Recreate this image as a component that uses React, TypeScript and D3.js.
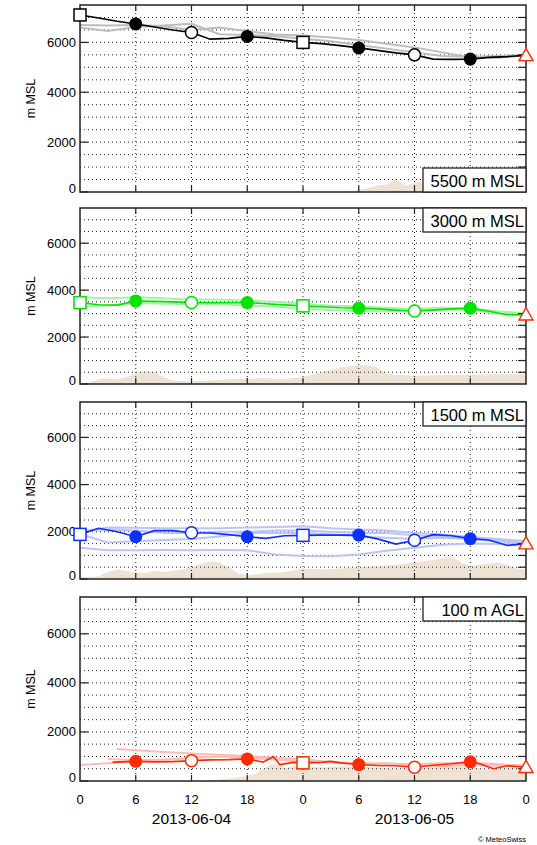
import React from "react";
import * as d3 from "d3";

// ---------- data ----------
const hours2 = [0, 2, 4, 6, 8, 10, 12, 14, 16, 18, 20, 22, 24, 26, 28, 30, 32, 34, 36, 38, 40, 42, 44, 46, 48];
const hours3 = [0, 3, 6, 9, 12, 15, 18, 21, 24, 27, 30, 33, 36, 39, 42, 45, 48];

// Panel 1: 5500 m MSL
const p1Main = [7100, 6980, 6850, 6740, 6620, 6500, 6400, 6130, 6160, 6240, 6180, 6080, 6000, 5950, 5870, 5780, 5680, 5580, 5500, 5330, 5320, 5330, 5400, 5430, 5480];
const p1EnsA = [6600, 6460, 6620, 6680, 6750, 6330, 6300, 6250, 6150, 6050, 5900, 5750, 5600, 5450, 5420, 5450, 5500];
const p1EnsB = [6700, 6680, 6700, 6650, 6500, 6600, 6450, 6320, 6280, 6200, 6100, 5950, 5800, 5600, 5400, 5380, 5480];
const p1TerrainHours = [0, 29, 30, 31, 32, 33, 34, 35, 35.5, 36.5, 37.5, 38, 40, 42, 44, 46, 48];
const p1Terrain = [0, 0, 80, 150, 260, 300, 520, 250, 300, 420, 200, 250, 300, 350, 300, 250, 300];

// Panel 2: 3000 m MSL
const p2Main = [3470, 3380, 3360, 3540, 3520, 3500, 3470, 3460, 3460, 3470, 3420, 3370, 3330, 3290, 3250, 3230, 3200, 3150, 3110, 3150, 3200, 3230, 3100, 2950, 2950];
const p2EnsA = [3700, 3650, 3700, 3650, 3600, 3600, 3550, 3500, 3420, 3330, 3300, 3250, 3200, 3250, 3230, 3100, 3000];
const p2EnsB = [3300, 3350, 3450, 3420, 3400, 3400, 3350, 3300, 3200, 3150, 3100, 3100, 3120, 3180, 3150, 3000, 2950];
const p2TerrainHours = [0, 1, 2, 3, 4, 5, 6, 7, 8, 9, 10, 12, 14, 16, 18, 20, 22, 24, 26, 28, 30, 31, 32, 33, 34, 36, 40, 44, 48];
const p2Terrain = [0, 50, 200, 250, 200, 300, 450, 550, 500, 300, 150, 120, 150, 200, 220, 250, 200, 300, 500, 700, 800, 800, 700, 450, 380, 350, 380, 400, 430];

// Panel 3: 1500 m MSL
const p3Main = [1890, 2150, 2000, 1790, 2050, 2050, 1960, 1950, 1880, 1790, 1720, 1830, 1850, 1860, 1860, 1860, 1700, 1480, 1640, 1880, 1830, 1710, 1650, 1420, 1500];
const p3EnsA = [2000, 2180, 2170, 2150, 2150, 2150, 2180, 2200, 2240, 2150, 2100, 2050, 1950, 1900, 1780, 1700, 1600];
const p3EnsB = [1320, 1220, 1220, 1230, 1220, 1230, 1220, 1040, 970, 965, 1040, 1200, 1320, 1450, 1500, 1480, 1450];
const p3EnsC = [1900, 1550, 1600, 1650, 1700, 1800, 1950, 1950, 1950, 1900, 1800, 1750, 1700, 1750, 1700, 1600, 1500];
const p3EnsD = [2050, 2100, 2050, 1950, 1950, 2000, 2000, 2050, 2050, 2000, 1950, 1950, 1850, 1800, 1700, 1650, 1550];
const p3TerrainHours = [0, 1, 2, 3, 4, 5, 6, 7, 8, 9, 10, 11, 12, 13, 14, 15, 16, 17, 18, 19, 20, 22, 24, 26, 28, 30, 32, 34, 36, 38, 40, 41, 42, 43, 44, 45, 46, 47, 48];
const p3Terrain = [100, 80, 120, 300, 400, 350, 280, 250, 350, 300, 350, 400, 500, 650, 730, 700, 500, 250, 150, 200, 250, 300, 450, 400, 450, 500, 550, 600, 700, 800, 950, 700, 550, 600, 650, 700, 600, 450, 400];

// Panel 4: 100 m AGL
const p4MainHours = [3.5, 6, 8, 10, 12, 14, 16, 18, 19.7, 20.8, 21.5, 23, 24, 26, 27, 28, 30, 32, 34, 36, 38, 40, 42, 43, 44.5, 46, 48];
const p4Main = [770, 800, 780, 790, 830, 860, 870, 900, 770, 1000, 670, 760, 740, 760, 800, 740, 670, 630, 620, 560, 640, 700, 780, 700, 500, 620, 560];
const p4EnsA = [650, 720, 780, 850, 950, 1000, 1000, 950, 900, 750, 700, 720, 650, 600, 650, 620, 600];
const p4EnsBHours = [4, 6, 9, 12, 15, 18, 21, 24, 27, 30, 33, 36, 39, 42, 45, 48];
const p4EnsB = [1300, 1250, 1180, 1120, 1070, 1020, 900, 800, 780, 700, 660, 650, 700, 720, 650, 620];
const p4EnsCHours = [3, 6, 9, 12, 15, 18, 21, 24, 27, 30, 33, 36, 39, 42, 45, 48];
const p4EnsC = [900, 850, 880, 950, 1000, 950, 880, 800, 780, 720, 700, 680, 720, 750, 680, 620];
const p4TerrainHours = [0, 13, 14, 15, 16, 17, 18, 19, 19.5, 20.5, 21.5, 22, 23, 24, 26, 28, 30, 32, 34, 36, 38, 40, 42, 44, 46, 48];
const p4Terrain = [0, 0, 30, 60, 100, 150, 200, 300, 450, 650, 700, 500, 600, 600, 550, 600, 580, 550, 500, 520, 550, 600, 580, 450, 520, 500];

const panelLabels = ["5500 m MSL", "3000 m MSL", "1500 m MSL", "100 m AGL"];
const yTickValues = [0, 2000, 4000, 6000];
const gridValues = [500, 1000, 1500, 2000, 2500, 3000, 3500, 4000, 4500, 5000, 5500, 6000, 6500, 7000];
const xTickHours = [0, 6, 12, 18, 24, 30, 36, 42, 48];
const xTickLabels = ["0", "6", "12", "18", "0", "6", "12", "18", "0"];
const dateHours = [12, 36];
const dateLabels = ["2013-06-04", "2013-06-05"];
const markerKinds = ["square", "filled", "open", "filled", "square", "filled", "open", "filled", "triangle"];

// ---------- layout / styles ----------
const X0 = 80;
const X1 = 526;
const panelTops = [5, 208, 402, 597];
const panelBottoms = [192, 384, 579, 781];
const FONT = "'Liberation Sans', Arial, Helvetica, sans-serif";
const TERRAIN = "#ede2d4";
const TRI_RED = "#ff2a00";

type Series = { hours: number[]; values: number[] };
type Panel = {
  label: string;
  labelTop: boolean;
  color: string;
  light: string;
  main: Series;
  ens: Series[];
  terrain: Series;
};

const panels: Panel[] = [
  {
    label: panelLabels[0], labelTop: false, color: "#000000", light: "#bdbdbd",
    main: { hours: hours2, values: p1Main },
    ens: [{ hours: hours3, values: p1EnsA }, { hours: hours3, values: p1EnsB }],
    terrain: { hours: p1TerrainHours, values: p1Terrain },
  },
  {
    label: panelLabels[1], labelTop: true, color: "#00e400", light: "#a6f2a6",
    main: { hours: hours2, values: p2Main },
    ens: [{ hours: hours3, values: p2EnsA }, { hours: hours3, values: p2EnsB }],
    terrain: { hours: p2TerrainHours, values: p2Terrain },
  },
  {
    label: panelLabels[2], labelTop: true, color: "#0a30ff", light: "#bcc4f6",
    main: { hours: hours2, values: p3Main },
    ens: [
      { hours: hours3, values: p3EnsA },
      { hours: hours3, values: p3EnsB },
      { hours: hours3, values: p3EnsC },
      { hours: hours3, values: p3EnsD },
    ],
    terrain: { hours: p3TerrainHours, values: p3Terrain },
  },
  {
    label: panelLabels[3], labelTop: true, color: "#ff2a00", light: "#ffbcb4",
    main: { hours: p4MainHours, values: p4Main },
    ens: [
      { hours: hours3, values: p4EnsA },
      { hours: p4EnsBHours, values: p4EnsB },
      { hours: p4EnsCHours, values: p4EnsC },
    ],
    terrain: { hours: p4TerrainHours, values: p4Terrain },
  },
];

const x = d3.scaleLinear().domain([0, 48]).range([X0, X1]);

function PanelView({ p, i }: { p: Panel; i: number }) {
  const top = panelTops[i];
  const bottom = panelBottoms[i];
  const y = d3.scaleLinear().domain([0, 7500]).range([bottom, top]);
  const line = d3
    .line<number>()
    .x((_, k) => 0)
    .y(() => 0);
  const mk = (s: Series) =>
    d3
      .line<number>()
      .x((_, k) => x(s.hours[k]))
      .y((v) => y(v))(s.values) || "";
  const terrainPath =
    d3
      .area<number>()
      .x((_, k) => x(p.terrain.hours[k]))
      .y0(bottom)
      .y1((v) => y(v))(p.terrain.values) || "";
  void line;
  const clipId = `clip${i}`;
  const boxH = 24;
  const boxX = 423;
  const boxY = p.labelTop ? top : bottom - boxH;

  const markers = xTickHours
    .map((h, k) => {
      const idx = p.main.hours.indexOf(h);
      if (idx < 0) return null;
      const cx = x(h);
      const cy = y(p.main.values[idx]);
      const kind = markerKinds[k];
      if (kind === "square")
        return <rect key={k} x={cx - 6} y={cy - 6} width={12} height={12} fill="#fff" stroke={p.color} strokeWidth={1.5} />;
      if (kind === "filled") return <circle key={k} cx={cx} cy={cy} r={6.5} fill={p.color} />;
      if (kind === "open") return <circle key={k} cx={cx} cy={cy} r={6} fill="#fff" stroke={p.color} strokeWidth={1.5} />;
      const s = 7;
      return (
        <path
          key={k}
          d={`M${cx},${cy - s} L${cx + s},${cy + s * 0.75} L${cx - s},${cy + s * 0.75} Z`}
          fill="#fff"
          stroke={TRI_RED}
          strokeWidth={1.4}
        />
      );
    })
    .filter(Boolean);

  return (
    <g>
      <defs>
        <clipPath id={clipId}>
          <rect x={X0} y={top} width={X1 - X0} height={bottom - top} />
        </clipPath>
      </defs>
      <rect x={X0} y={top} width={X1 - X0} height={bottom - top} fill="#fff" />
      <path d={terrainPath} fill={TERRAIN} clipPath={`url(#${clipId})`} />
      {gridValues.map((v) => (
        <line key={"h" + v} x1={X0} x2={X1} y1={y(v)} y2={y(v)} stroke="#222" strokeWidth={1} strokeDasharray="1,3" />
      ))}
      {xTickHours.slice(1, -1).map((h) => (
        <line key={"v" + h} x1={x(h)} x2={x(h)} y1={top} y2={bottom} stroke="#222" strokeWidth={1} strokeDasharray="1,3" />
      ))}
      <g clipPath={`url(#${clipId})`}>
        {p.ens.map((s, k) => (
          <path key={k} d={mk(s)} fill="none" stroke={p.light} strokeWidth={2} />
        ))}
        <path d={mk(p.main)} fill="none" stroke={p.color} strokeWidth={1.6} />
      </g>
      {/* right inward ticks */}
      {gridValues.map((v) => (
        <line key={"rt" + v} x1={X1 - 8} x2={X1} y1={y(v)} y2={y(v)} stroke="#222" strokeWidth={1.2} />
      ))}
      {/* left major ticks */}
      {yTickValues.map((v) => (
        <line key={"lt" + v} x1={X0} x2={X0 + 8} y1={y(v)} y2={y(v)} stroke="#222" strokeWidth={1.2} />
      ))}
      {/* top & bottom ticks */}
      {xTickHours.slice(1, -1).map((h) => (
        <g key={"tb" + h}>
          <line x1={x(h)} x2={x(h)} y1={top} y2={top + 6} stroke="#222" strokeWidth={1.2} />
          <line x1={x(h)} x2={x(h)} y1={bottom - 6} y2={bottom} stroke="#222" strokeWidth={1.2} />
        </g>
      ))}
      <rect x={X0} y={top} width={X1 - X0} height={bottom - top} fill="none" stroke="#222" strokeWidth={1.5} />
      {yTickValues.map((v) => (
        <text
          key={"yl" + v}
          x={76}
          y={y(v) - (v === 0 ? 4 : 0)}
          textAnchor="end"
          dominantBaseline="central"
          fontSize={13}
          fontFamily={FONT}
          fill="#000"
        >
          {v}
        </text>
      ))}
      <text
        transform={`translate(31,${(top + bottom) / 2}) rotate(-90)`}
        textAnchor="middle"
        dominantBaseline="central"
        fontSize={12.5}
        fontFamily={FONT}
        fill="#000"
      >
        m MSL
      </text>
      {markers}
      <rect x={boxX} y={boxY} width={X1 - boxX} height={boxH} fill="#fff" stroke="#222" strokeWidth={1.3} />
      <text x={524} y={boxY + boxH / 2 + 1} textAnchor="end" dominantBaseline="central" fontSize={16.5} fontFamily={FONT} fill="#000">
        {p.label}
      </text>
    </g>
  );
}

export default function App() {
  const lastBottom = panelBottoms[3];
  return (
    <svg width={537} height={845} style={{ position: "absolute", left: 0, top: 0, background: "#fff" }}>
      <rect x={0} y={0} width={537} height={845} fill="#fff" />
      {panels.map((p, i) => (
        <PanelView key={i} p={p} i={i} />
      ))}
      {xTickHours.map((h, k) => (
        <text key={"xt" + k} x={x(h)} y={lastBottom + 18} textAnchor="middle" dominantBaseline="central" fontSize={13} fontFamily={FONT} fill="#000">
          {xTickLabels[k]}
        </text>
      ))}
      {dateHours.map((h, k) => (
        <text key={"d" + k} x={x(h)} y={lastBottom + 37} textAnchor="middle" dominantBaseline="central" fontSize={15.5} fontFamily={FONT} fill="#000">
          {dateLabels[k]}
        </text>
      ))}
      <text x={526} y={839} textAnchor="end" dominantBaseline="central" fontSize={7.5} fontFamily={FONT} fill="#000">
        © MeteoSwiss
      </text>
    </svg>
  );
}
